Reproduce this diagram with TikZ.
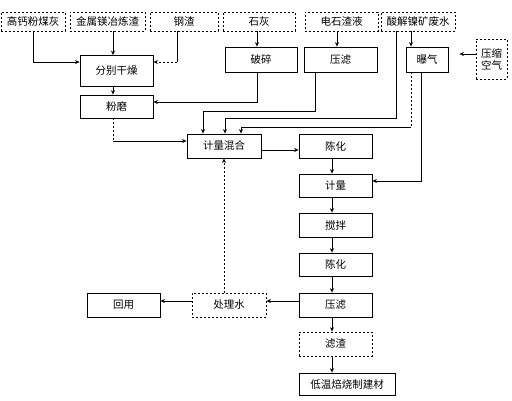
\documentclass[tikz,border=0pt]{standalone}
\usepackage{fontspec}
\setmainfont{Noto Sans CJK SC}
\usetikzlibrary{arrows.meta}
\begin{document}
\begin{tikzpicture}[x=1pt,y=-1pt,
  every node/.style={font=\fontsize{10.5}{12}\selectfont, inner sep=0pt, align=center},
  solidbox/.style={draw, line width=0.8pt, minimum height=24pt},
  dashbox/.style={draw, line width=0.8pt, dash pattern=on 2pt off 2pt, minimum height=24pt},
  topbox/.style={dashbox, minimum height=19pt},
  conn/.style={line width=0.8pt},
  arr/.style={conn, -{Stealth[length=4.5pt,width=4pt]}},
  dotl/.style={line width=0.8pt, dash pattern=on 2pt off 2pt}
]
\useasboundingbox (0,0) rectangle (512,400);
% top row
\node[topbox, minimum width=64pt] (gf) at (33,21.5) {高钙粉煤灰};
\node[topbox, minimum width=75pt] (js) at (107.5,21.5) {金属镁冶炼渣};
\node[topbox, minimum width=68pt] (gz) at (184,21.5) {钢渣};
\node[topbox, minimum width=72pt] (sh) at (259,21.5) {石灰};
\node[topbox, minimum width=73pt] (dsz) at (341.5,21.5) {电石渣液};
\node[topbox, minimum width=74pt] (sj) at (418,21.5) {酸解镍矿废水};
% second row
\node[solidbox, minimum width=73pt, minimum height=31pt] (fbgz) at (116.5,71) {分别干燥};
\node[solidbox, minimum width=73pt, minimum height=23pt] (fm) at (116.5,106.5) {粉磨};
\node[solidbox, minimum width=72pt, minimum height=25pt] (ps) at (261,59.5) {破碎};
\node[solidbox, minimum width=73pt, minimum height=25pt] (yl1) at (340.5,59.5) {压滤};
\node[solidbox, minimum width=42pt, minimum height=25pt] (bq) at (427,59.5) {曝气};
\node[dashbox, minimum width=31pt, minimum height=40pt] (ysk) at (491.5,59) {压缩\\空气};
% main chain
\node[solidbox, minimum width=74pt] (jlhh) at (224,146) {计量混合};
\node[solidbox, minimum width=73pt] (ch1) at (335.5,146) {陈化};
\node[solidbox, minimum width=73pt, minimum height=23pt] (jl) at (335.5,185.5) {计量};
\node[solidbox, minimum width=73pt] (jb) at (335.5,225) {搅拌};
\node[solidbox, minimum width=73pt, minimum height=23pt] (ch2) at (335.5,264.5) {陈化};
\node[solidbox, minimum width=73pt] (yl2) at (335.5,305) {压滤};
\node[dashbox, minimum width=74pt] (clsh) at (229,305) {处理水};
\node[solidbox, minimum width=73pt] (hy) at (123.5,305) {回用};
\node[dashbox, minimum width=73pt] (lz) at (335.5,344) {滤渣};
\node[solidbox, minimum width=96pt, minimum height=22pt] (dw) at (347,384) {低温焙烧制建材};
% coordinates for corners
\coordinate (c1) at (177,62);
\coordinate (c2) at (396,118);
\coordinate (c3) at (315,111);
\coordinate (c4) at (411,127);
\coordinate (c5) at (113,141);
% connectors
\draw[arr] (gf.south) |- ([yshift=9pt]fbgz.west);
\draw[arr] ([xshift=5.5pt]js.south) -- ([xshift=-3.5pt]fbgz.north);
\draw[conn] ([xshift=-7pt]gz.south) -- (c1);
\draw[dotl, -{Stealth[length=4.5pt,width=4pt]}] (c1) -- ([yshift=9pt]fbgz.east);
\draw[arr] ([xshift=-3.5pt]fbgz.south) -- ([xshift=-3.5pt]fm.north);
\draw[arr] ([xshift=-2pt]sh.south) -- ([xshift=-4pt]ps.north);
\draw[arr] ([xshift=-4.5pt]dsz.south) -- ([xshift=-3.5pt]yl1.north);
\draw[arr] ([xshift=-7pt]sj.south) -- ([xshift=-16pt]bq.north);
\draw[arr] ([xshift=-22pt]sj.south) -- (c2) -| ([xshift=1pt]jlhh.north);
\draw[arr] ([xshift=-4pt]ps.south) |- ([yshift=4.5pt]fm.east);
\draw[arr] ([xshift=-25.5pt]yl1.south) -- (c3) -| ([xshift=-21pt]jlhh.north);
\draw[dotl] ([xshift=-16pt]bq.south) -- (c4);
\draw[arr] (c4) -| ([xshift=17pt]jlhh.north);
\draw[arr] ([xshift=-6pt]bq.south) |- ([yshift=4.5pt]jl.east);
\draw[dotl] ([xshift=-3.5pt]fm.south) -- (c5);
\draw[arr] (c5) -- ([yshift=5pt]jlhh.west);
\draw[arr] ([yshift=-4pt]jlhh.east) -- ([yshift=-4pt]ch1.west);
\draw[arr] ([xshift=-3.5pt]ch1.south) -- ([xshift=-3.5pt]jl.north);
\draw[arr] ([xshift=-3.5pt]jl.south) -- ([xshift=-3.5pt]jb.north);
\draw[arr] ([xshift=-3.5pt]jb.south) -- ([xshift=-3.5pt]ch2.north);
\draw[arr] ([xshift=-3.5pt]ch2.south) -- ([xshift=-3.5pt]yl2.north);
\draw[arr] ([xshift=-3.5pt]yl2.south) -- ([xshift=-3.5pt]lz.north);
\draw[arr] ([xshift=-3.5pt]lz.south) -- ([xshift=-15pt]dw.north);
\draw[dotl, -{Stealth[length=4.5pt,width=4pt]}] ([xshift=-5pt]clsh.north) -- (jlhh.south);
\draw[arr] ([yshift=4pt]yl2.west) -- ([yshift=4pt]clsh.east);
\draw[arr] ([yshift=4pt]clsh.west) -- ([yshift=4pt]hy.east);
\draw[arr] ([yshift=5pt]ysk.west) -- ([yshift=5.5pt,xshift=11pt]bq.east);
\end{tikzpicture}
\end{document}
